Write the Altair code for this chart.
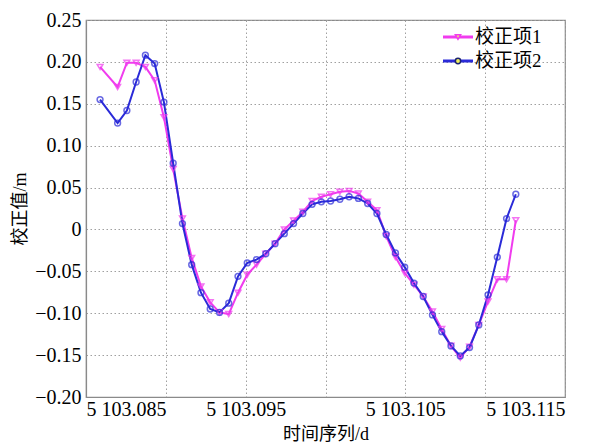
import altair as alt
import pandas as pd

# time (d)
x_vals = [5103.08588, 5103.08698, 5103.08756, 5103.08814, 5103.08872, 5103.08930,
          5103.08988, 5103.09046, 5103.09104, 5103.09162, 5103.09220, 5103.09278,
          5103.09336, 5103.09394, 5103.09452, 5103.09510, 5103.09568, 5103.09626,
          5103.09684, 5103.09742, 5103.09800, 5103.09858, 5103.09916, 5103.09974,
          5103.10032, 5103.10090, 5103.10148, 5103.10206, 5103.10264, 5103.10322,
          5103.10380, 5103.10438, 5103.10496, 5103.10554, 5103.10612, 5103.10670,
          5103.10728, 5103.10786, 5103.10844, 5103.10902, 5103.10960, 5103.11018,
          5103.11076, 5103.11134, 5103.11192]

series1 = [0.194, 0.170, 0.199, 0.199, 0.194, 0.178, 0.134, 0.072, 0.013, -0.034,
           -0.068, -0.087, -0.099, -0.101, -0.0755, -0.054, -0.042, -0.029, -0.017, 0.000,
           0.0105, 0.021, 0.034, 0.039, 0.042, 0.045, 0.046, 0.043, 0.033, 0.023,
           -0.008, -0.033, -0.052, -0.066, -0.080, -0.098, -0.119, -0.139, -0.153, -0.140,
           -0.114, -0.086, -0.0595, -0.0595, 0.011]

series2 = [0.155, 0.127, 0.142, 0.176, 0.208, 0.198, 0.152, 0.079, 0.007, -0.042,
           -0.0755, -0.095, -0.099, -0.088, -0.056, -0.040, -0.036, -0.029, -0.017, -0.005,
           0.007, 0.019, 0.030, 0.033, 0.034, 0.036, 0.039, 0.037, 0.031, 0.019,
           -0.006, -0.028, -0.045, -0.064, -0.080, -0.102, -0.122, -0.139, -0.151, -0.141,
           -0.114, -0.078, -0.033, 0.013, 0.042]

names = ["校正项1", "校正项2"]
line_colors = ["#f03cee", "#2a2ad8"]
marker_colors = ["#f03cee", "#1b2270"]
shapes = ["triangle-down", "circle"]

x_ticks = [5103.085, 5103.09, 5103.095, 5103.1, 5103.105, 5103.11, 5103.115]
y_ticks = [-0.2, -0.15, -0.1, -0.05, 0, 0.05, 0.1, 0.15, 0.2, 0.25]

df = pd.DataFrame({
    "x": x_vals * 2,
    "y": series1 + series2,
    "series": [names[0]] * len(x_vals) + [names[1]] * len(x_vals),
})

NUMFONT = "Liberation Serif, Times New Roman, Times, serif"
FONT = "Liberation Serif, Times New Roman, Noto Sans CJK SC, serif"

x_enc = alt.X("x:Q",
              scale=alt.Scale(domain=[5103.085, 5103.115], nice=False, zero=False),
              axis=alt.Axis(values=x_ticks, title="时间序列/d",
                            labelExpr="(abs(datum.value-5103.09)<0.0001 || abs(datum.value-5103.1)<0.0001 || abs(datum.value-5103.11)<0.0001) ? '' : '5 ' + substring(format(datum.value, '.3f'), 1)",
                            titlePadding=6, labelPadding=2))
y_enc = alt.Y("y:Q",
              scale=alt.Scale(domain=[-0.2, 0.25], nice=False, zero=False),
              axis=alt.Axis(values=y_ticks, title="校正值/m",
                            labelExpr="datum.value == 0 ? '0' : format(datum.value, '.2f')",
                            titlePadding=5, labelPadding=5))

lines = alt.Chart(df).mark_line(strokeWidth=2).encode(
    x=x_enc, y=y_enc,
    color=alt.Color("series:N", scale=alt.Scale(domain=names, range=line_colors), legend=None),
)
points = alt.Chart(df).mark_point(filled=False, size=34, strokeWidth=1.5).encode(
    x="x:Q", y="y:Q",
    color=alt.Color("series:N", scale=alt.Scale(domain=names, range=marker_colors), legend=None),
    shape=alt.Shape("series:N", scale=alt.Scale(domain=names, range=shapes), legend=None),
)

# manual legend (top-right, inside plot)
one = pd.DataFrame({"a": [0]})
legend_layers = []
for i, nm in enumerate(names):
    yy = 17 + 24 * i
    legend_layers.append(alt.Chart(one).mark_rule(strokeWidth=3, color=line_colors[i]).encode(
        x=alt.value(357), x2=alt.value(387), y=alt.value(yy)))
    legend_layers.append(alt.Chart(one).mark_point(filled=False, size=28, strokeWidth=1.5,
                                                   shape=shapes[i], color=marker_colors[i],
                                                   fill="#f0f060", fillOpacity=1).encode(
        x=alt.value(372), y=alt.value(yy)))
    legend_layers.append(alt.Chart(one).mark_text(text=nm, align="left", baseline="middle",
                                                  font=FONT, fontSize=19, color="black").encode(
        x=alt.value(389), y=alt.value(yy)))

chart = alt.layer(lines, points, *legend_layers).properties(
    width=479, height=377,
    autosize=alt.AutoSizeParams(type="none"),
    padding={"left": 78, "top": 12, "right": 30, "bottom": 49},
).configure_view(
    stroke="#8a8a8a", strokeWidth=1.2
).configure_axis(
    labelFont=NUMFONT, labelFontSize=20, labelColor="black",
    titleFont=FONT, titleFontSize=18, titleFontWeight="normal", titleColor="black",
    grid=True, gridColor="#a0a0a0", gridDash=[1.5, 2.5], gridWidth=1,
    domainColor="#8a8a8a", domainWidth=1.2,
    tickSize=0,
)

chart.save("out.html", embed_options={"renderer": "svg", "actions": False})
